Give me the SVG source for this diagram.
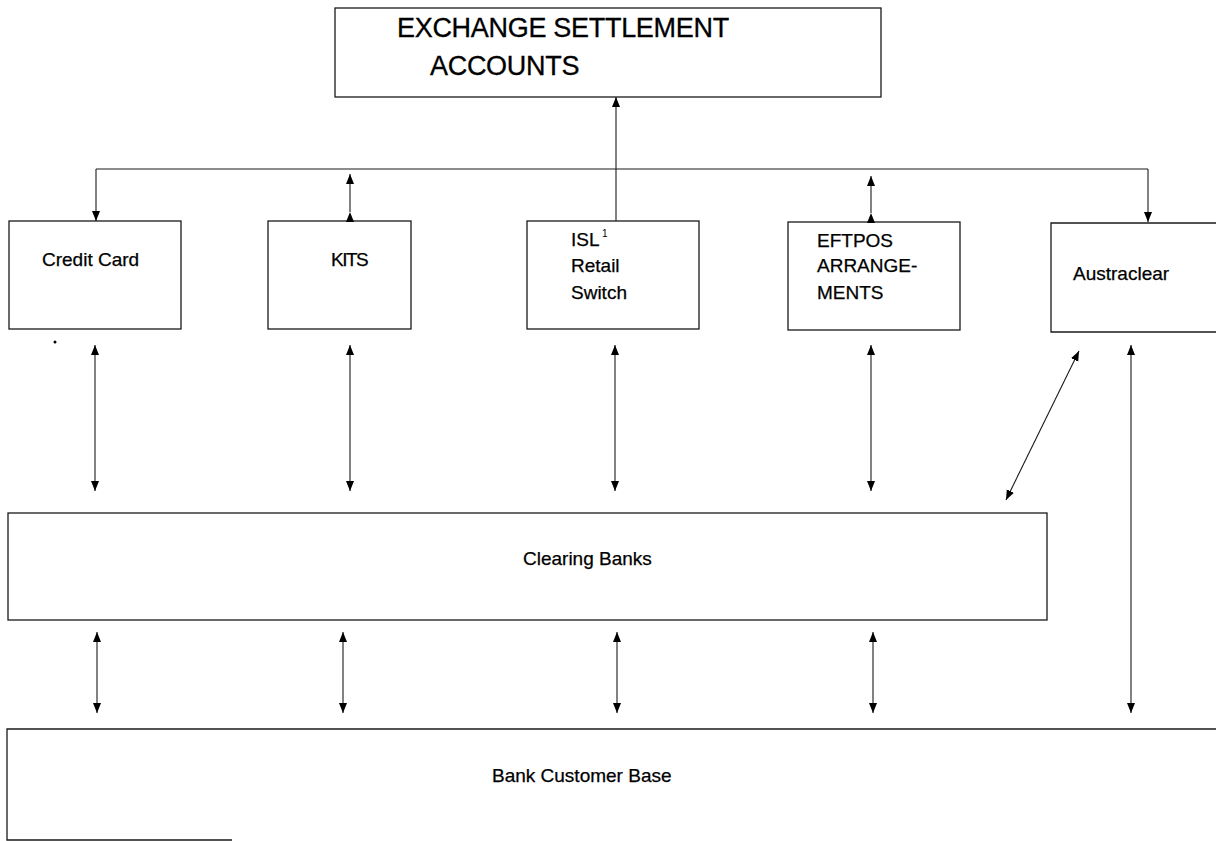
<svg xmlns="http://www.w3.org/2000/svg" width="1216" height="841" viewBox="0 0 1216 841">
<style>
.box{fill:none;stroke:#1a1a1a;stroke-width:1.3}
.ln{fill:none;stroke:#1a1a1a;stroke-width:1.1}
.t{font-family:"Liberation Sans",Arial,sans-serif;font-size:19px;fill:#000;stroke:#000;stroke-width:0.25}
.tt{font-family:"Liberation Sans",Arial,sans-serif;font-size:27px;fill:#000;stroke:#000;stroke-width:0.3;letter-spacing:-0.3px}
.sup{font-family:"Liberation Sans",Arial,sans-serif;font-size:10px;fill:#000}
</style>
<defs>
<marker id="ah" markerUnits="userSpaceOnUse" markerWidth="11" markerHeight="9" refX="10" refY="4" orient="auto-start-reverse">
<path d="M0,0 L10,4 L0,8 Z" fill="#000"/>
</marker>
<marker id="ahf" markerUnits="userSpaceOnUse" markerWidth="11" markerHeight="9" refX="10" refY="4" orient="auto">
<path d="M0,0 L10,4 L0,8 Z" fill="#000"/>
</marker>
</defs>
<rect width="1216" height="841" fill="#fff"/>

<g id="exchange">
<rect class="box" x="335" y="8" width="546" height="89"/>
<text class="tt" x="397" y="37">EXCHANGE SETTLEMENT</text>
<text class="tt" x="430" y="75">ACCOUNTS</text>
</g>

<g id="credit-card">
<rect class="box" x="9" y="221" width="172" height="108"/>
<text class="t" x="42" y="266">Credit Card</text>
</g>

<g id="kits">
<rect class="box" x="268" y="221" width="143" height="108"/>
<text class="t" x="331" y="266" letter-spacing="-1.5">KITS</text>
</g>

<g id="isl">
<rect class="box" x="527" y="221" width="172" height="108"/>
<text class="t" x="571" y="246">ISL</text>
<text class="sup" x="602" y="237">1</text>
<text class="t" x="571" y="272">Retail</text>
<text class="t" x="571" y="299">Switch</text>
</g>

<g id="eftpos">
<rect class="box" x="788" y="222" width="172" height="108"/>
<text class="t" x="817" y="247">EFTPOS</text>
<text class="t" x="817" y="272">ARRANGE-</text>
<text class="t" x="817" y="299">MENTS</text>
</g>

<g id="austraclear">
<path class="box" d="M1216,223 L1051,223 L1051,332 L1216,332"/>
<text class="t" x="1073" y="280">Austraclear</text>
</g>

<g id="clearing-banks">
<rect class="box" x="8" y="513" width="1039" height="107"/>
<text class="t" x="523" y="565">Clearing Banks</text>
</g>

<g id="customer-base">
<path class="box" d="M1216,729 L7,729 L7,840 L232,840"/>
<text class="t" x="492" y="782">Bank Customer Base</text>
</g>

<g id="connectors">
<line class="ln" x1="96" y1="169" x2="1148" y2="169"/>
<line class="ln" x1="616" y1="221" x2="616" y2="97" marker-end="url(#ah)"/>
<line class="ln" x1="96" y1="169" x2="96" y2="221" marker-end="url(#ah)"/>
<line class="ln" x1="1148" y1="169" x2="1148" y2="222" marker-end="url(#ah)"/>
<path class="ln" d="M350,212 L350,174" marker-start="url(#ahf)" marker-end="url(#ah)"/>
<path class="ln" d="M871,213 L871,176" marker-start="url(#ahf)" marker-end="url(#ah)"/>
<line class="ln" x1="95" y1="345" x2="95" y2="491" marker-start="url(#ah)" marker-end="url(#ah)"/>
<line class="ln" x1="350" y1="345" x2="350" y2="491" marker-start="url(#ah)" marker-end="url(#ah)"/>
<line class="ln" x1="615" y1="345" x2="615" y2="491" marker-start="url(#ah)" marker-end="url(#ah)"/>
<line class="ln" x1="871" y1="345" x2="871" y2="491" marker-start="url(#ah)" marker-end="url(#ah)"/>
<line class="ln" x1="1079" y1="351" x2="1006" y2="500" marker-start="url(#ah)" marker-end="url(#ah)"/>
<line class="ln" x1="1131" y1="345" x2="1131" y2="713" marker-start="url(#ah)" marker-end="url(#ah)"/>
<line class="ln" x1="97" y1="632" x2="97" y2="713" marker-start="url(#ah)" marker-end="url(#ah)"/>
<line class="ln" x1="343" y1="632" x2="343" y2="713" marker-start="url(#ah)" marker-end="url(#ah)"/>
<line class="ln" x1="617" y1="632" x2="617" y2="713" marker-start="url(#ah)" marker-end="url(#ah)"/>
<line class="ln" x1="873" y1="632" x2="873" y2="713" marker-start="url(#ah)" marker-end="url(#ah)"/>
</g>

<circle cx="55" cy="342" r="1.5" fill="#000"/>
</svg>
